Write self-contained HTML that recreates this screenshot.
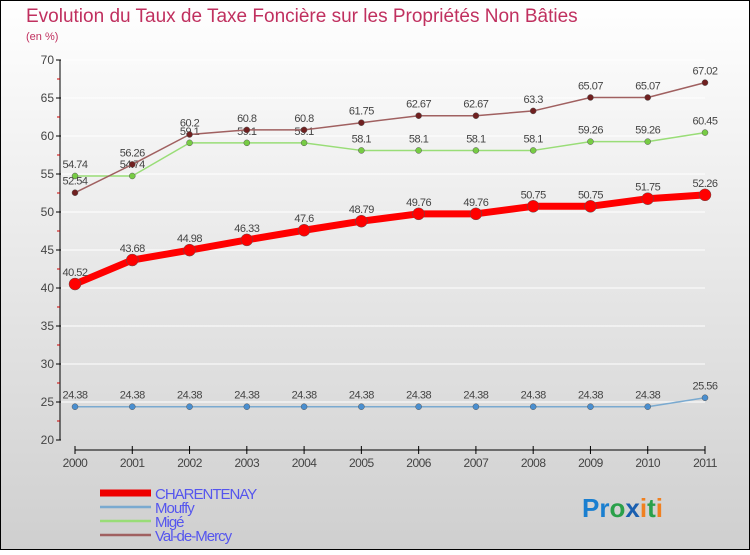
<!DOCTYPE html>
<html><head><meta charset="utf-8"><style>
body{margin:0}
svg text{font-family:"Liberation Sans",sans-serif}
</style></head><body>
<svg width="750" height="550" xmlns="http://www.w3.org/2000/svg">
<defs><linearGradient id="bg" x1="0" y1="0" x2="0" y2="1"><stop offset="0" stop-color="#ffffff"/><stop offset="1" stop-color="#cfcfcf"/></linearGradient></defs>
<rect x="0.5" y="0.5" width="749" height="549" fill="url(#bg)" stroke="#000"/>
<text x="26" y="22" font-size="19" fill="#c0305f">Evolution du Taux de Taxe Foncière sur les Propriétés Non Bâties</text>
<text x="26" y="40" font-size="11" fill="#c0305f">(en %)</text>
<g id="axes"></g><g id="series"></g><g id="legend"></g>
<text x="582" y="517" font-size="26" font-weight="bold"><tspan fill="#1a7fd0">Pr</tspan><tspan fill="#2aa04a">o</tspan><tspan fill="#1a5fb0">x</tspan><tspan fill="#f08020">i</tspan><tspan fill="#2aa04a">t</tspan><tspan fill="#f08020">i</tspan></text>
</svg>
<script>
const years=["2000","2001","2002","2003","2004","2005","2006","2007","2008","2009","2010","2011"];
const yTicks=[20,25,30,35,40,45,50,55,60,65,70];
const charentenay=[40.52,43.68,44.98,46.33,47.6,48.79,49.76,49.76,50.75,50.75,51.75,52.26];
const mouffy=[24.38,24.38,24.38,24.38,24.38,24.38,24.38,24.38,24.38,24.38,24.38,25.56];
const mige=[54.74,54.74,59.1,59.1,59.1,58.1,58.1,58.1,58.1,59.26,59.26,60.45];
const valdemercy=[52.54,56.26,60.2,60.8,60.8,61.75,62.67,62.67,63.3,65.07,65.07,67.02];
const NS="http://www.w3.org/2000/svg";
const xs=i=>75+i*(630/(years.length-1));
const ys=v=>440-(v-20)*7.6;
function el(t,a,p){const e=document.createElementNS(NS,t);for(const k in a)e.setAttribute(k,a[k]);p.appendChild(e);return e;}
const ax=document.getElementById('axes');
let l=el('line',{x1:60,y1:60,x2:60,y2:440,stroke:'#000'},ax);


yTicks.forEach(v=>{
 el('line',{x1:56,y1:ys(v),x2:61,y2:ys(v),stroke:'#000'},ax);
 el('line',{x1:57,y1:ys(v+2.5),x2:60,y2:ys(v+2.5),stroke:'#c00'},ax).style.display=v<70?'':'none';
 const t=el('text',{x:54,y:ys(v)+4,'font-size':12,fill:'#444','text-anchor':'end'},ax);t.textContent=v;
 
 
 if(v>20){const g=el('line',{x1:61,y1:ys(v),x2:705,y2:ys(v),stroke:'#fff','stroke-width':1},ax);}
});
l=el('line',{x1:75,y1:450,x2:705,y2:450,stroke:'#000'},ax);


years.forEach((y,i)=>{
 el('line',{x1:xs(i),y1:446,x2:xs(i),y2:454,stroke:'#000'},ax);
 const t=el('text',{x:xs(i),y:467,'font-size':12,fill:'#444','text-anchor':'middle','letter-spacing':'-0.5'},ax);t.textContent=y;
 
 
});
const S=document.getElementById('series');
function draw(name,data,col,w,r,fill){
 const g=el('g',{},S);
 
 
 el('polyline',{points:data.map((v,i)=>xs(i)+','+ys(v)).join(' '),fill:'none',stroke:col,'stroke-width':w,'stroke-linejoin':'round'},g);
 data.forEach((v,i)=>{
  const c=el('circle',{cx:xs(i),cy:ys(v),r:r,fill:fill,stroke:'#555','stroke-width':0.5},g);
  
  
  const t=el('text',{x:xs(i),y:ys(v)-8,'font-size':11,fill:'#444','text-anchor':'middle','letter-spacing':'-0.5'},g);
  t.textContent=String(v).replace('.','.');
  
  
 });
}
draw('mouffy',mouffy,'#7aaad0',1.5,3,'#4a8fd0');
draw('mige',mige,'#99dd77',1.5,3,'#77cc44');
draw('val-de-mercy',valdemercy,'#a06060',1.5,3,'#702020');
draw('charentenay',charentenay,'#ff0000',7,6,'#ff0000');
const L=document.getElementById('legend');
const leg=[['CHARENTENAY','#ee0000',7],['Mouffy','#7aaad0',2.5],['Migé','#99dd77',2.5],['Val-de-Mercy','#a06060',2.5]];
leg.forEach((d,i)=>{
 const y=493+i*14;
 const g=el('g',{},L);
 
 
 el('line',{x1:100,y1:y,x2:151,y2:y,stroke:d[1],'stroke-width':d[2]},g);
 const t=el('text',{x:155,y:y+6,'font-size':15,fill:'#5555ee','letter-spacing':'-1'},g);t.textContent=d[0];
});
</script>
</body></html>
